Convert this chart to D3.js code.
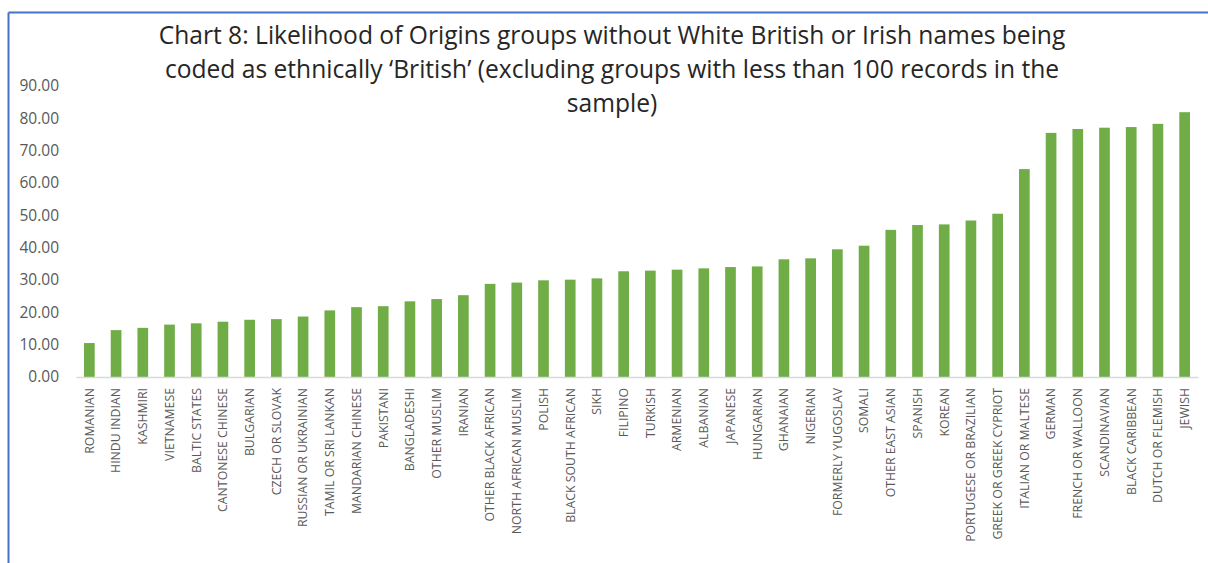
<!DOCTYPE html>
<html><head><meta charset="utf-8">
<script src="https://cdn.jsdelivr.net/npm/d3@7"></script>
<style>html,body{margin:0;padding:0;background:#fff;overflow:hidden}</style>
</head><body>
<script>
const categories = ["ROMANIAN","HINDU INDIAN","KASHMIRI","VIETNAMESE","BALTIC STATES","CANTONESE CHINESE","BULGARIAN","CZECH OR SLOVAK","RUSSIAN OR UKRAINIAN","TAMIL OR SRI LANKAN","MANDARIAN CHINESE","PAKISTANI","BANGLADESHI","OTHER MUSLIM","IRANIAN","OTHER BLACK AFRICAN","NORTH AFRICAN MUSLIM","POLISH","BLACK SOUTH AFRICAN","SIKH","FILIPINO","TURKISH","ARMENIAN","ALBANIAN","JAPANESE","HUNGARIAN","GHANAIAN","NIGERIAN","FORMERLY YUGOSLAV","SOMALI","OTHER EAST ASIAN","SPANISH","KOREAN","PORTUGESE OR BRAZILIAN","GREEK OR GREEK CYPRIOT","ITALIAN OR MALTESE","GERMAN","FRENCH OR WALLOON","SCANDINAVIAN","BLACK CARIBBEAN","DUTCH OR FLEMISH","JEWISH"];
const values = [10.5,14.5,15.2,16.2,16.6,17.1,17.7,17.9,18.7,20.6,21.6,21.9,23.4,24.1,25.3,28.8,29.2,29.9,30.1,30.5,32.7,32.9,33.2,33.6,34.0,34.2,36.4,36.7,39.5,40.6,45.5,47.0,47.2,48.4,50.5,64.3,75.5,76.7,77.1,77.3,78.3,81.9];
const yTicks = [0,10,20,30,40,50,60,70,80,90];
const titleLines = [
  [{t:"Chart 8:",b:true},{t:" Likelihood of Origins groups without White British or Irish names being",b:false}],
  [{t:"coded as ethnically \u2018British\u2019 (excluding groups with less than 100 records in the",b:false}],
  [{t:"sample)",b:false}]
];

const W=1208,H=563;
const svg=d3.select("body").append("svg").attr("width",W).attr("height",H);

// frame
svg.append("line").attr("x1",8.5).attr("x2",W).attr("y1",12.5).attr("y2",12.5).attr("stroke","#4472C4").attr("stroke-width",2);
svg.append("line").attr("x1",8.5).attr("x2",8.5).attr("y1",12.5).attr("y2",H).attr("stroke","#4472C4").attr("stroke-width",2);

const x=d3.scaleBand().domain(categories).range([76,1198]).paddingInner(0.6).paddingOuter(0.3);
const y=d3.scaleLinear().domain([0,90]).range([377,86]);

// bars
svg.append("g").selectAll("rect").data(values).join("rect")
  .attr("x",(d,i)=>x(categories[i]))
  .attr("width",x.bandwidth())
  .attr("y",d=>y(d))
  .attr("height",d=>y(0)-y(d))
  .attr("fill","#70AD47");

// y axis
const ya=svg.append("g").attr("transform","translate(59,0)")
  .call(d3.axisLeft(y).tickValues(yTicks).tickFormat(d3.format(".2f")).tickSize(0).tickPadding(0));
ya.select(".domain").remove();
ya.selectAll("text").attr("font-family","'Open Sans'").attr("font-size",15.5).attr("fill","#595959");

// x axis
const xa=svg.append("g").attr("transform","translate(0,377)")
  .call(d3.axisBottom(x).tickSize(0).tickPadding(0));
xa.select(".domain").attr("stroke","#D9D9D9").attr("stroke-width",1.5);
xa.selectAll("text")
  .attr("font-family","'Open Sans'").attr("font-size",12.3).attr("fill","#595959")
  .attr("transform","rotate(-90)")
  .attr("text-anchor","end")
  .attr("x",-11).attr("y",0).attr("dy","0.35em");

// title
const tg=svg.append("g");
const lineY=[44,78,112];
titleLines.forEach((parts,li)=>{
  const t=tg.append("text").attr("x",612).attr("y",lineY[li]).attr("text-anchor","middle")
    .attr("font-family","'Open Sans'").attr("font-size",24.6).attr("fill","#262626");
  parts.forEach(p=>t.append("tspan").text(p.t).attr("font-weight","400"));
});
</script>
</body></html>
